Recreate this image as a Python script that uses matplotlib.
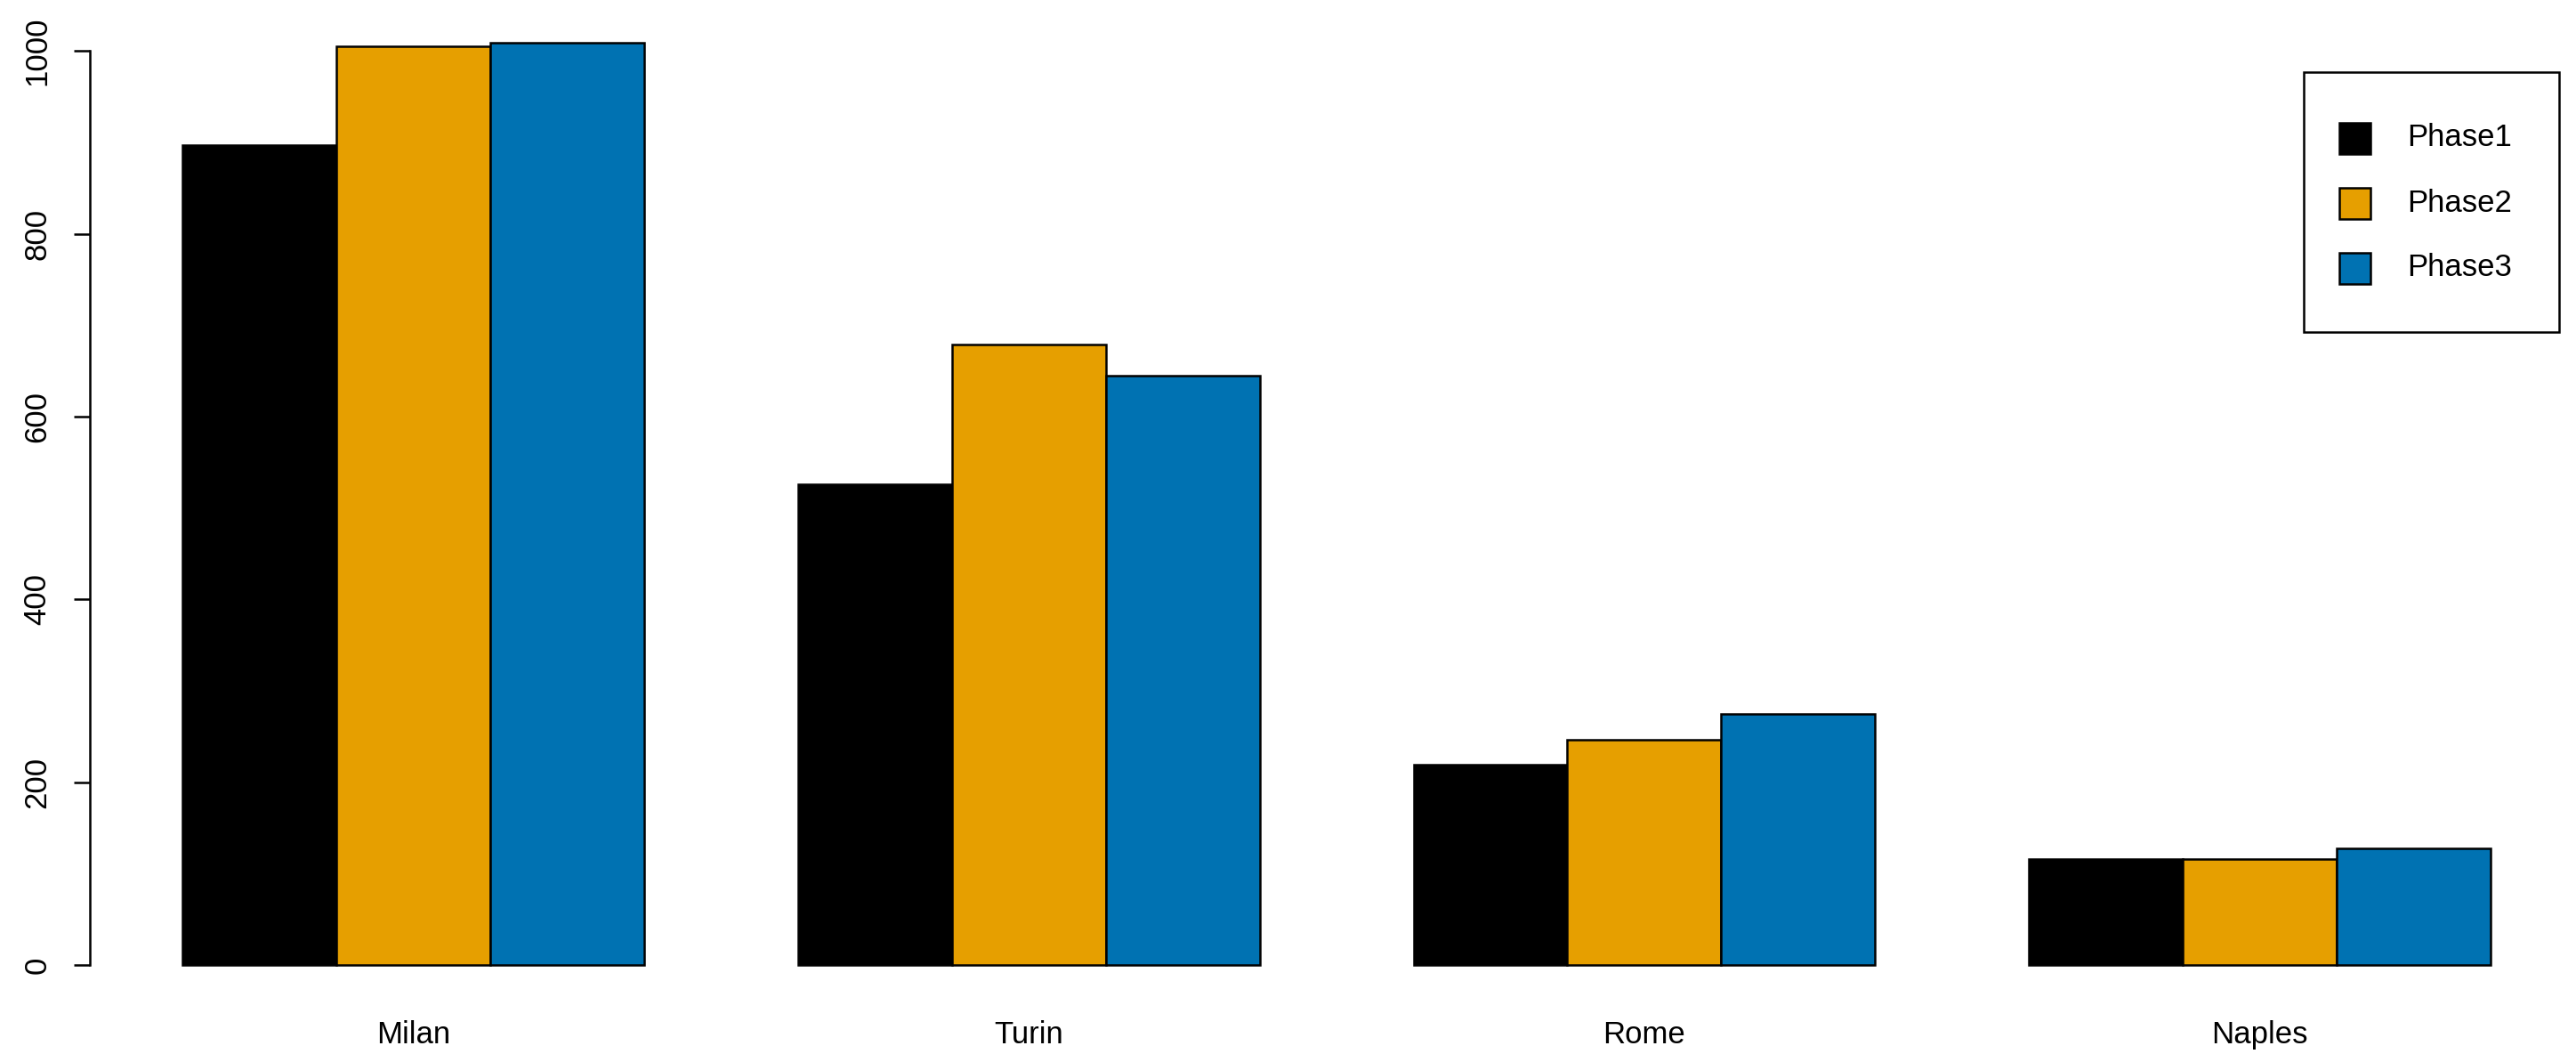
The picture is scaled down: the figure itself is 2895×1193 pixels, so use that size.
import numpy as np
import matplotlib.pyplot as plt
from matplotlib.patches import Rectangle

plt.rcParams['font.family'] = ['Liberation Sans', 'DejaVu Sans']

cities = ['Milan', 'Turin', 'Rome', 'Naples']
phases = ['Phase1', 'Phase2', 'Phase3']
phase1 = [897, 526, 219, 116]
phase2 = [1005, 679, 246, 116]
phase3 = [1009, 645, 275, 128]
colors = ['#000000', '#E69F00', '#0072B2']
yticks = [0, 200, 400, 600, 800, 1000]

W, H = 2895, 1193
fig = plt.figure(figsize=(W / 100, H / 100), dpi=100)
ax = fig.add_axes([0.035, 0.0566, 0.9677, 0.938])

# R-style beside barplot: each group = 3 bars + 1 space
values = [phase1, phase2, phase3]
for j, vals in enumerate(values):
    x = np.arange(len(cities)) * 4 + 1.5 + j
    ax.bar(x, vals, width=1.0, color=colors[j], edgecolor='black', linewidth=1.8)

ax.set_xlim(0.4, 16.6)
ax.set_ylim(-40.4, 1049.4)

ax.set_xticks(np.arange(len(cities)) * 4 + 2.5)
ax.set_xticklabels(cities, fontsize=25)
ax.tick_params(axis='x', length=0, pad=15)

ax.set_yticks(yticks)
ax.set_yticklabels([str(t) for t in yticks], fontsize=25, rotation=90, va='center')
ax.tick_params(axis='y', length=13, width=1.8, pad=18)

for s in ['top', 'right', 'bottom']:
    ax.spines[s].set_visible(False)
ax.spines['left'].set_bounds(0, 1000)
ax.spines['left'].set_linewidth(1.8)


# legend box drawn by hand (R legend layout), figure pixel coords from top-left
def fx(px):
    return px / W


def fy(py):
    return 1 - py / H


fig.patches.append(Rectangle((fx(2589), fy(373)), fx(2876) - fx(2589), fy(81) - fy(373),
                             transform=fig.transFigure, facecolor='white', edgecolor='black',
                             linewidth=1.8, zorder=5))
sq = 35
for i, (name, c) in enumerate(zip(phases, colors)):
    cy = 155 + i * 73
    fig.patches.append(Rectangle((fx(2629), fy(cy + sq / 2)), sq / W, sq / H,
                                 transform=fig.transFigure, facecolor=c, edgecolor='black',
                                 linewidth=1.8, zorder=6))
    fig.text(fx(2705), fy(cy), name, fontsize=25, va='center', ha='left', zorder=7)

fig.savefig('out.png', dpi=100)
